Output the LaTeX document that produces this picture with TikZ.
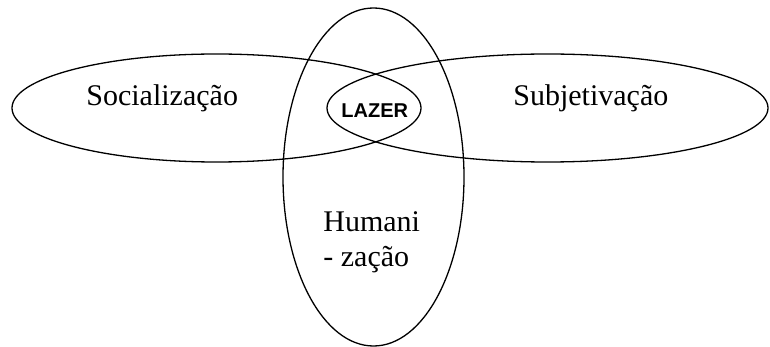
\documentclass[tikz,border=0pt]{standalone}
\usepackage{fontspec}
\setmainfont{Liberation Serif}
\newfontfamily\lazerfont{Liberation Sans}
\begin{document}
\begin{tikzpicture}[x=0.5pt,y=-0.5pt,
  ring/.style={draw=black,line width=0.65pt},
  lbl/.style={anchor=base west,inner sep=0pt,font=\fontsize{15pt}{17pt}\selectfont},
  core/.style={anchor=base west,inner sep=0pt,font=\lazerfont\bfseries\fontsize{10pt}{12pt}\selectfont}]
\useasboundingbox (0,0) rectangle (770,347);
\draw[ring] (216.5,108) ellipse [x radius=102.25pt,y radius=27pt];
\draw[ring] (547.5,108) ellipse [x radius=110.25pt,y radius=27pt];
\draw[ring] (373.5,177) ellipse [x radius=45.25pt,y radius=84.5pt];
\node[lbl] (soc) at (86,106) {Socialização};
\node[lbl] (sub) at (513,106) {Subjetivação};
\node[core] (laz) at (341,117.5) {LAZER};
\node[lbl] (hum1) at (323,232) {Humani};
\node[lbl] (hum2) at (323,266) {- zação};
\end{tikzpicture}
\end{document}
